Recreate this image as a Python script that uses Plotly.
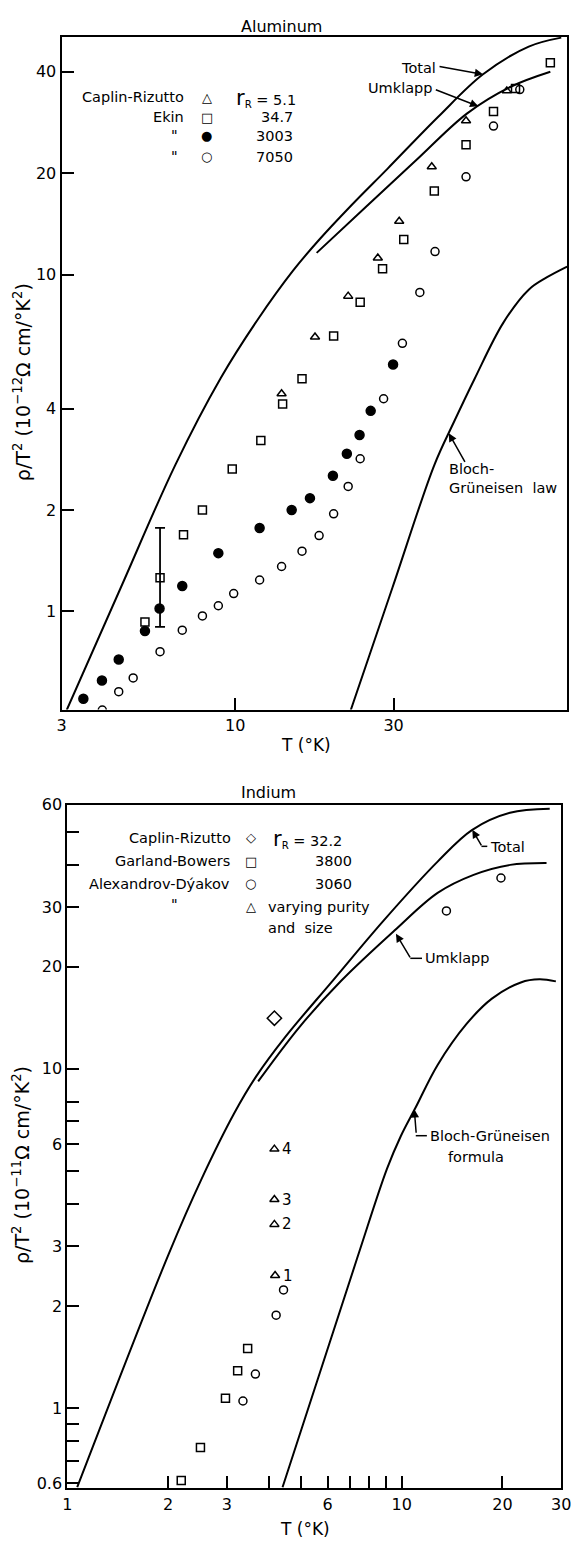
import math
import plotly.graph_objects as go

W, H = 584, 1545
FONT = "DejaVu Sans"

# ---------------- Aluminum (top) ----------------
al_caplin_T = [13.8, 17.4, 21.9, 26.9, 31.2, 39.1, 49.6, 65.8]
al_caplin_rho = [4.43, 6.53, 8.63, 11.2, 14.4, 20.9, 28.6, 35.1]

al_ekin347_T = [5.35, 5.94, 6.99, 7.97, 9.8, 11.95, 13.9, 15.9, 19.8, 23.8, 27.8, 32.2, 39.8, 49.6, 60, 69.9, 89]
al_ekin347_rho = [0.93, 1.26, 1.69, 2.0, 2.65, 3.22, 4.13, 4.91, 6.57, 8.27, 10.4, 12.7, 17.7, 24.3, 30.5, 35.7, 42.5]
al_errbar_index = 1
al_errbar_high = 1.77
al_errbar_low = 0.90

al_ekin3003_T = [3.49, 3.97, 4.46, 5.35, 5.92, 6.93, 8.9, 11.85, 14.8, 16.8, 19.7, 21.7, 23.7, 25.6, 29.9]
al_ekin3003_rho = [0.551, 0.624, 0.72, 0.875, 1.02, 1.19, 1.49, 1.77, 2.0, 2.17, 2.53, 2.94, 3.34, 3.94, 5.41]

al_ekin7050_T = [3.98, 4.46, 4.93, 5.94, 6.93, 7.97, 8.9, 9.9, 11.85, 13.8, 15.9, 17.9, 19.8, 21.9, 23.8, 28, 31.9, 36, 40, 49.6, 60, 72]
al_ekin7050_rho = [0.51, 0.578, 0.635, 0.76, 0.88, 0.97, 1.04, 1.13, 1.24, 1.36, 1.51, 1.68, 1.95, 2.35, 2.84, 4.28, 6.25, 8.85, 11.7, 19.5, 27.6, 35.4]

al_total_T = [3.11, 4.53, 6.6, 9.06, 11.66, 14.94, 17.8, 22.4, 28.75, 40.9, 55.8, 76.6, 96]
al_total_rho = [0.51, 1.18, 2.72, 4.94, 7.32, 10.27, 12.6, 16.06, 20.6, 29.4, 39.3, 47.5, 50.5]

al_umklapp_T = [17.6, 24.7, 35, 50, 67.6, 89]
al_umklapp_rho = [11.6, 15.85, 21.8, 30.1, 36.1, 40]

al_bg_T = [22.3, 29.8, 39.8, 45.6, 52.6, 64.2, 76.6, 87.0, 100]
al_bg_rho = [0.51, 1.18, 2.72, 3.65, 4.9, 7.19, 9.02, 9.82, 10.56]

al_xticks = [3, 10, 30, 100]
al_xticktext = ["3", "10", "30", "100\u00a0\u00a0"]
al_yticks = [1, 2, 4, 10, 20, 40]

# ---------------- Indium (bottom) ----------------
in_caplin_T = [4.16]
in_caplin_rho = [14.1]

in_garland_T = [2.19, 2.50, 2.97, 3.23, 3.46]
in_garland_rho = [0.612, 0.766, 1.07, 1.29, 1.50]

in_alex_T = [3.35, 3.65, 4.21, 4.43, 13.6, 19.8]
in_alex_rho = [1.05, 1.26, 1.88, 2.23, 29.2, 36.5]

in_vary_T = [4.18, 4.16, 4.16, 4.16]
in_vary_rho = [2.46, 3.48, 4.12, 5.8]
in_vary_labels = ["1", "2", "3", "4"]

in_total_T = [1.07, 2.01, 2.52, 3.16, 3.67, 4.48, 6.22, 8.81, 12.8, 16.25, 21.07, 27.7]
in_total_rho = [0.585, 2.85, 4.74, 7.42, 9.5, 12.4, 18.2, 27.3, 40.8, 50.6, 56.8, 58.4]

in_umklapp_T = [3.72, 4.95, 6.60, 9.49, 12.8, 16.4, 21.1, 27.1]
in_umklapp_rho = [9.18, 13.3, 18.2, 25.5, 33.0, 37.3, 39.9, 40.4]

in_bg_T = [4.40, 7.35, 9.03, 9.93, 11.0, 12.8, 15.6, 18.6, 22.7, 25.8, 28.9]
in_bg_rho = [0.585, 2.76, 5.07, 6.33, 7.69, 10.27, 13.54, 16.1, 17.97, 18.35, 18.1]

in_xticks = [1, 2, 3, 4, 5, 6, 7, 8, 9, 10, 20, 30]
in_xticktext = ["1", "2", "3", "", "", "6", "", "", "", "10", "20", "30"]
in_yticks = [0.6, 0.7, 0.8, 0.9, 1, 2, 3, 4, 5, 6, 7, 8, 10, 20, 30, 40, 50, 60]
in_yticktext = ["0.6", "", "", "", "1", "2", "3", "", "", "6", "", "", "10", "20", "30", "", "", "60"]

# ---------------- figure ----------------
fig = go.Figure()
BLACK = "black"


def line(x, y, xa, ya):
    fig.add_trace(go.Scatter(x=x, y=y, mode="lines", xaxis=xa, yaxis=ya,
                             line=dict(color=BLACK, width=2, shape="spline", smoothing=1.0),
                             showlegend=False, hoverinfo="skip"))


def pts(x, y, xa, ya, symbol, size=8):
    fig.add_trace(go.Scatter(x=x, y=y, mode="markers", xaxis=xa, yaxis=ya,
                             marker=dict(symbol=symbol, size=size, color=BLACK,
                                         line=dict(color=BLACK, width=1.5)),
                             showlegend=False))


# top curves
line(al_total_T, al_total_rho, "x", "y")
line(al_umklapp_T, al_umklapp_rho, "x", "y")
line(al_bg_T, al_bg_rho, "x", "y")

# error bar on one Ekin point
i = al_errbar_index
fig.add_trace(go.Scatter(
    x=[al_ekin347_T[i]], y=[al_ekin347_rho[i]], mode="markers", xaxis="x", yaxis="y",
    marker=dict(size=1, color="rgba(0,0,0,0)"),
    error_y=dict(type="data", symmetric=False,
                 array=[al_errbar_high - al_ekin347_rho[i]],
                 arrayminus=[al_ekin347_rho[i] - al_errbar_low],
                 color=BLACK, thickness=1.8, width=5),
    showlegend=False))

pts(al_caplin_T, al_caplin_rho, "x", "y", "triangle-up-open", 8)
pts(al_ekin347_T, al_ekin347_rho, "x", "y", "square-open", 8)
pts(al_ekin3003_T, al_ekin3003_rho, "x", "y", "circle", 9)
pts(al_ekin7050_T, al_ekin7050_rho, "x", "y", "circle-open", 8)

# bottom curves
line(in_total_T, in_total_rho, "x2", "y2")
line(in_umklapp_T, in_umklapp_rho, "x2", "y2")
line(in_bg_T, in_bg_rho, "x2", "y2")

pts(in_caplin_T, in_caplin_rho, "x2", "y2", "diamond-open", 11)
pts(in_garland_T, in_garland_rho, "x2", "y2", "square-open", 8)
pts(in_alex_T, in_alex_rho, "x2", "y2", "circle-open", 8)
pts(in_vary_T, in_vary_rho, "x2", "y2", "triangle-up-open", 8)

axis_common = dict(type="log", showgrid=False, zeroline=False, showline=True,
                   linecolor=BLACK, linewidth=2, mirror=True, ticks="inside",
                   ticklen=12, tickwidth=2, tickcolor=BLACK,
                   tickfont=dict(family=FONT, size=16, color=BLACK))

fig.update_layout(
    width=W, height=H, margin=dict(l=0, r=0, t=0, b=0),
    paper_bgcolor="white", plot_bgcolor="white", showlegend=False,
    xaxis=dict(axis_common, domain=[58 / W, 577 / W], anchor="y",
               range=[math.log10(3) - 1e-4, 2 + 1e-4],
               tickvals=al_xticks, ticktext=al_xticktext),
    yaxis=dict(axis_common, domain=[1 - 707 / H, 1 - 28 / H], anchor="x",
               range=[-0.2912, 1.7059], tickvals=al_yticks,
               ticktext=[str(v) for v in al_yticks]),
    xaxis2=dict(axis_common, domain=[64 / W, 571 / W], anchor="y2",
                range=[-1e-4, math.log10(30) + 1e-4],
                tickvals=in_xticks, ticktext=in_xticktext),
    yaxis2=dict(axis_common, domain=[1 - 1493 / H, 1 - 803 / H], anchor="x2",
                range=[math.log10(0.58), math.log10(60) + 1e-4],
                tickvals=in_yticks, ticktext=in_yticktext),
)

ann = []


def text(x, y, s, size=14.5, xanchor="center", yanchor="middle", angle=0, align="center"):
    ann.append(dict(xref="paper", yref="paper", x=x / W, y=1 - y / H, text=s,
                    showarrow=False, xanchor=xanchor, yanchor=yanchor, textangle=angle,
                    align=align, font=dict(family=FONT, size=size, color=BLACK)))


def arrow(xa, ya, T, rho, ax, ay):
    ann.append(dict(xref=xa, yref=ya, x=math.log10(T), y=math.log10(rho), text="",
                    showarrow=True, arrowhead=2, arrowsize=1.1, arrowwidth=1.5,
                    arrowcolor=BLACK, ax=ax, ay=ay, standoff=0))


# ---- top texts ----
text(284, 18, "Aluminum", 16)
text(309, 743, "T (°K)", 17)
text(17, 377, "ρ/T<sup>2</sup> (10<sup>−12</sup>Ω cm/°K<sup>2</sup>)", 19, angle=-90)

rr = "<span style='font-size:21px'>r</span><sub>R</sub> = "
text(186, 89, "Caplin-Rizutto", xanchor="right")
text(186, 109, "Ekin", xanchor="right")
text(174, 127, '"')
text(174, 148, '"')
text(207, 89, "△", 13)
text(207, 109, "□", 13)
text(207, 128, "●", 13)
text(207, 149, "○", 13)
text(235, 90, rr + "5.1", xanchor="left")
text(298, 109, "34.7", xanchor="right")
text(298, 128, "3003", xanchor="right")
text(298, 149, "7050", xanchor="right")

text(444, 60, "Total", xanchor="right")
arrow("x", "y", 55.8, 39.3, -45, -8)
text(440, 80, "Umklapp", xanchor="right")
arrow("x", "y", 54, 31.6, -44, -17)
text(454, 474, "Bloch-<br>Grüneisen  law", xanchor="left", align="left")
arrow("x", "y", 44, 3.38, 17, 30)

# ---- bottom texts ----
text(270, 791, "Indium", 16)
text(308, 1534, "T (°K)", 17)
text(17, 1167, "ρ/T<sup>2</sup> (10<sup>−11</sup>Ω cm/°K<sup>2</sup>)", 19, angle=-90)

text(234, 837, "Caplin-Rizutto", xanchor="right")
text(233, 860, "Garland-Bowers", xanchor="right")
text(233, 883, "Alexandrov-Dýakov", xanchor="right")
text(174, 903, '"')
text(252, 836, "◇", 13)
text(252, 860, "□", 13)
text(252, 883, "○", 13)
text(252, 906, "△", 13)
text(273, 838, rr + "32.2", xanchor="left")
text(358, 860, "3800", xanchor="right")
text(358, 883, "3060", xanchor="right")
text(268, 906, "varying purity", xanchor="left")
text(268, 927, "and  size", xanchor="left")

for T, r, lab in zip(in_vary_T, in_vary_rho, in_vary_labels):
    ann.append(dict(xref="x2", yref="y2", x=math.log10(T), y=math.log10(r), text=lab,
                    showarrow=False, xshift=13, font=dict(family=FONT, size=15, color=BLACK)))

text(496, 846, "Total", xanchor="left")
arrow("x2", "y2", 16.25, 50.6, 10, 17)
text(429, 958, "Umklapp", xanchor="left")
arrow("x2", "y2", 9.61, 25.0, 15, 25)
text(434, 1137, "Bloch-Grüneisen", xanchor="left")
text(483, 1158, "formula")
arrow("x2", "y2", 10.9, 7.6, 2, 25)

fig.update_layout(annotations=ann)

shapes = []
for (x0, x1, y) in [(489, 495, 845), (416, 428, 958), (421.6, 433, 1137)]:
    shapes.append(dict(type="line", xref="paper", yref="paper", x0=x0 / W, x1=x1 / W,
                       y0=1 - y / H, y1=1 - y / H, line=dict(color=BLACK, width=1.5)))
fig.update_layout(shapes=shapes)

fig.write_html("out.html", config={"displayModeBar": False},
               post_script="document.body.style.margin='0';document.body.style.overflow='hidden';")
